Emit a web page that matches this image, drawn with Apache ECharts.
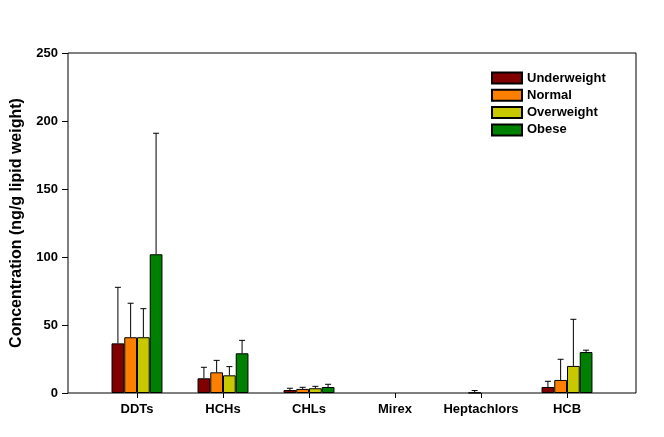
<!DOCTYPE html>
<html>
<head>
<meta charset="utf-8">
<script src="https://cdn.jsdelivr.net/npm/echarts@6/dist/echarts.min.js"></script>
<style>html,body{margin:0;padding:0;background:#fff}#c{width:664px;height:437px}</style>
</head>
<body>
<div id="c"></div>
<script>
var categories = ['DDTs', 'HCHs', 'CHLs', 'Mirex', 'Heptachlors', 'HCB'];
var seriesNames = ['Underweight', 'Normal', 'Overweight', 'Obese'];
var underweight = [36.5, 10.8, 2.2, 0, 0, 4.4];
var normal = [41, 15.2, 3.0, 0, 0.2, 9.6];
var overweight = [41, 13.0, 3.5, 0, 0, 19.9];
var obese = [102, 29.2, 4.4, 0, 0, 30.1];
var underweightSD = [41.2, 8.1, 1.3, 0, 0, 4.2];
var normalSD = [25, 8.8, 1.2, 0, 1.6, 15.2];
var overweightSD = [21, 6.4, 1.4, 0, 0, 34.3];
var obeseSD = [89, 9.5, 2.0, 0, 0, 1.4];
var yTicks = [0, 50, 100, 150, 200, 250];

var colors = ['#800000', '#FF8000', '#C8C800', '#008000'];
var means = [underweight, normal, overweight, obese];
var sds = [underweightSD, normalSD, overweightSD, obeseSD];
var FONT = 'Arial, "Liberation Sans", sans-serif';
var BW = 0.148;

var series = [];
seriesNames.forEach(function (n, i) {
  series.push({
    name: n, type: 'bar', xAxisIndex: 1, yAxisIndex: 1,
    data: means[i].map(function (v) { return v > 0.15 ? v : { value: v, itemStyle: { borderWidth: 0 } }; }),
    barWidth: (BW * 100) + '%', barGap: '0%',
    itemStyle: { color: colors[i], borderColor: '#000', borderWidth: 1 },
    animation: false
  });
});
seriesNames.forEach(function (n, i) {
  series.push({
    type: 'custom', xAxisIndex: 1, yAxisIndex: 1, silent: true, animation: false,
    data: means[i].map(function (v, k) { return [k, v, v + sds[i][k]]; }),
    renderItem: function (params, api) {
      var catW = api.size([1, 0])[0];
      var off = catW * BW * (i - 1.5);
      var p0 = api.coord([api.value(0), api.value(1)]);
      var p1 = api.coord([api.value(0), api.value(2)]);
      if (api.value(2) - api.value(1) <= 0) return null;
      var x = p0[0] + off;
      var s = { stroke: '#000', lineWidth: 1 };
      return { type: 'group', children: [
        { type: 'line', shape: { x1: x, y1: p0[1], x2: x, y2: p1[1] }, style: s },
        { type: 'line', shape: { x1: x - 3, y1: p1[1], x2: x + 3, y2: p1[1] }, style: s }
      ]};
    }
  });
});

var chart = echarts.init(document.getElementById('c'));
chart.setOption({
  animation: false,
  backgroundColor: '#fff',
  grid: [
    { left: 68, right: 28, top: 53, bottom: 44, show: true, borderColor: '#000', borderWidth: 1, backgroundColor: 'transparent' },
    { left: 94, width: 516, top: 53, bottom: 44 }
  ],
  legend: {
    orient: 'vertical', left: 491, top: 71, padding: 0, itemWidth: 30, itemHeight: 11, itemGap: 3.3,
    icon: 'rect', data: seriesNames,
    textStyle: { fontFamily: FONT, fontWeight: 'bold', fontSize: 13, lineHeight: 14, color: '#000' }
  },
  xAxis: [
    { gridIndex: 0, type: 'value', min: 0, max: 1, show: false },
    { gridIndex: 1, type: 'category', data: categories,
      axisLine: { show: false },
      axisTick: { show: true, alignWithLabel: true, interval: 0, length: 5, lineStyle: { color: '#000' } },
      axisLabel: { interval: 0, margin: 10, fontFamily: FONT, fontWeight: 'bold', fontSize: 13, color: '#000' } }
  ],
  yAxis: [
    { gridIndex: 0, type: 'value', min: 0, max: 250, interval: 50,
      name: 'Concentration (ng/g lipid weight)', nameLocation: 'middle', nameGap: 43,
      nameTextStyle: { fontFamily: FONT, fontWeight: 'bold', fontSize: 16, color: '#000' },
      axisLine: { show: false },
      axisTick: { show: true, length: 6, lineStyle: { color: '#000' } },
      splitLine: { show: false },
      axisLabel: { margin: 10, fontFamily: FONT, fontWeight: 'bold', fontSize: 13, color: '#000',
        formatter: function (v) { return yTicks.indexOf(v) >= 0 ? String(v) : ''; } } },
    { gridIndex: 1, type: 'value', min: 0, max: 250, show: false, splitLine: { show: false } }
  ],
  series: series
});
</script>
</body>
</html>
